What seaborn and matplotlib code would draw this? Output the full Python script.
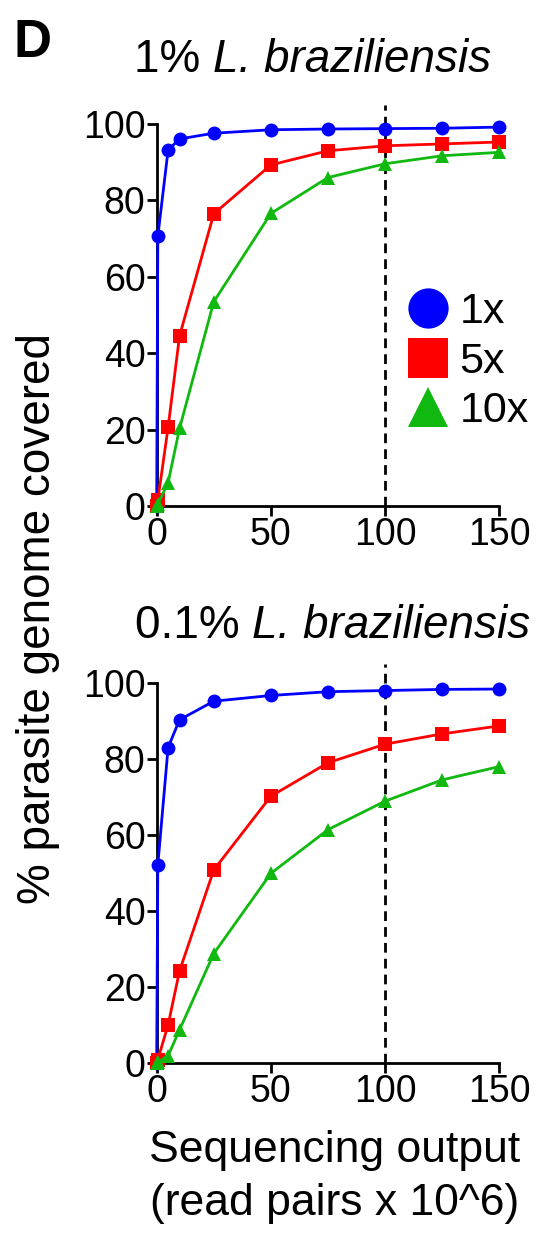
import numpy as np
import pandas as pd
import matplotlib
matplotlib.use("Agg")
import matplotlib.pyplot as plt
from matplotlib.transforms import offset_copy
import seaborn as sns

reads = [0, 0.5, 5, 10, 25, 50, 75, 100, 125, 150]
depths = ["1x", "5x", "10x"]

top_1x = [0, 70.6, 93.2, 96.1, 97.6, 98.5, 98.7, 98.8, 98.9, 99.2]
top_5x = [0, 1.5, 20.6, 44.5, 76.5, 89.3, 93.0, 94.3, 94.8, 95.3]
top_10x = [0, 0.5, 6.1, 20.3, 53.5, 76.6, 86.0, 89.6, 91.7, 92.6]

bot_1x = [0, 52.2, 83.1, 90.4, 95.3, 96.8, 97.8, 98.1, 98.4, 98.5]
bot_5x = [0, 1.0, 10.1, 24.3, 50.9, 70.3, 79.1, 84.0, 86.7, 88.8]
bot_10x = [0, 0.3, 2.0, 8.8, 28.9, 50.0, 61.5, 69.0, 74.6, 78.1]

titles = ["1%", "0.1%"]
species = "L. braziliensis"
yticks = [0, 20, 40, 60, 80, 100]
xticks = [0, 50, 100, 150]

sns.set_theme(style="ticks")
plt.rcParams["font.family"] = ["Liberation Sans", "DejaVu Sans"]
plt.rcParams["text.color"] = "black"
plt.rcParams["xtick.color"] = "black"
plt.rcParams["ytick.color"] = "black"
plt.rcParams["xtick.labelcolor"] = "black"
plt.rcParams["ytick.labelcolor"] = "black"

palette = {"1x": "#0000ff", "5x": "#ff0000", "10x": "#10b810"}
markers = {"1x": "o", "5x": "s", "10x": "^"}

def make_df(a, b, c):
    rows = []
    for d, vals in zip(depths, [a, b, c]):
        for x, y in zip(reads, vals):
            rows.append({"reads": x, "cov": y, "depth": d})
    return pd.DataFrame(rows)

fig = plt.figure(figsize=(5.44, 12.33), dpi=100)
ax1 = fig.add_axes([0.288, 0.5896, 0.630, 0.3098])
ax2 = fig.add_axes([0.288, 0.1376, 0.630, 0.3082])

title_specs = []
for ax, data, title, tx, ty in [(ax1, make_df(top_1x, top_5x, top_10x), titles[0], 0.575, 0.9416),
                                (ax2, make_df(bot_1x, bot_5x, bot_10x), titles[1], 0.612, 0.4826)]:
    ax.axvline(100, ymin=0, ymax=1.05, color="black", lw=2.0, ls=(0, (3.5, 2.2)), clip_on=False, zorder=1)
    sns.lineplot(data=data, x="reads", y="cov", hue="depth", style="depth",
                 markers=markers, dashes=False, palette=palette, hue_order=depths,
                 style_order=depths, lw=2.0, markersize=10, markeredgewidth=0,
                 ax=ax, legend=(ax is ax1), zorder=3, clip_on=False)
    ax.set_xlim(0, 150)
    ax.set_ylim(0, 100)
    ax.spines["top"].set_visible(False)
    ax.spines["right"].set_visible(False)
    for s in ["left", "bottom"]:
        ax.spines[s].set_linewidth(2.0)
        ax.spines[s].set_color("black")
    ax.set_xticks(xticks)
    ax.set_yticks(yticks)
    ax.tick_params(axis="both", labelsize=27, width=2.0, length=7, direction="out", color="black", pad=1)
    ax.set_xlabel("")
    ax.set_ylabel("")
    title_specs.append((title, tx, ty))

# titles: plain part + italic species, centred as a whole
renderer = fig.canvas.get_renderer()
for title, tx, ty in title_specs:
    t1 = fig.text(0, ty, title + " ", ha="left", va="baseline", fontsize=33)
    t2 = fig.text(0, ty, species, ha="left", va="baseline", fontsize=33, style="italic")
    w1 = t1.get_window_extent(renderer).width
    w2 = t2.get_window_extent(renderer).width
    W = fig.bbox.width
    x0 = tx - (w1 + w2) / 2 / W
    t1.set_x(x0)
    t2.set_x(x0 + w1 / W)

handles, labels = ax1.get_legend_handles_labels()
leg = ax1.legend(handles, labels, loc="upper left", bbox_to_anchor=(0.736, 0.56),
                 frameon=False, fontsize=31, markerscale=2.9, handlelength=0.9,
                 handletextpad=0.27, labelspacing=0.22, borderpad=0, borderaxespad=0)
for h in leg.legend_handles:
    h.set_linestyle("None")

fig.text(0.069, 0.498, "% parasite genome covered", rotation=90, ha="center", va="center", fontsize=33)
fig.text(0.616, 0.0576, "Sequencing output", ha="center", va="baseline", fontsize=32)
fig.text(0.616, 0.0146, "(read pairs x 10^6)", ha="center", va="baseline", fontsize=32)
fig.text(0.024, 0.9538, "D", fontsize=38, fontweight="bold", ha="left", va="baseline")

fig.savefig("out.png", dpi=100)
